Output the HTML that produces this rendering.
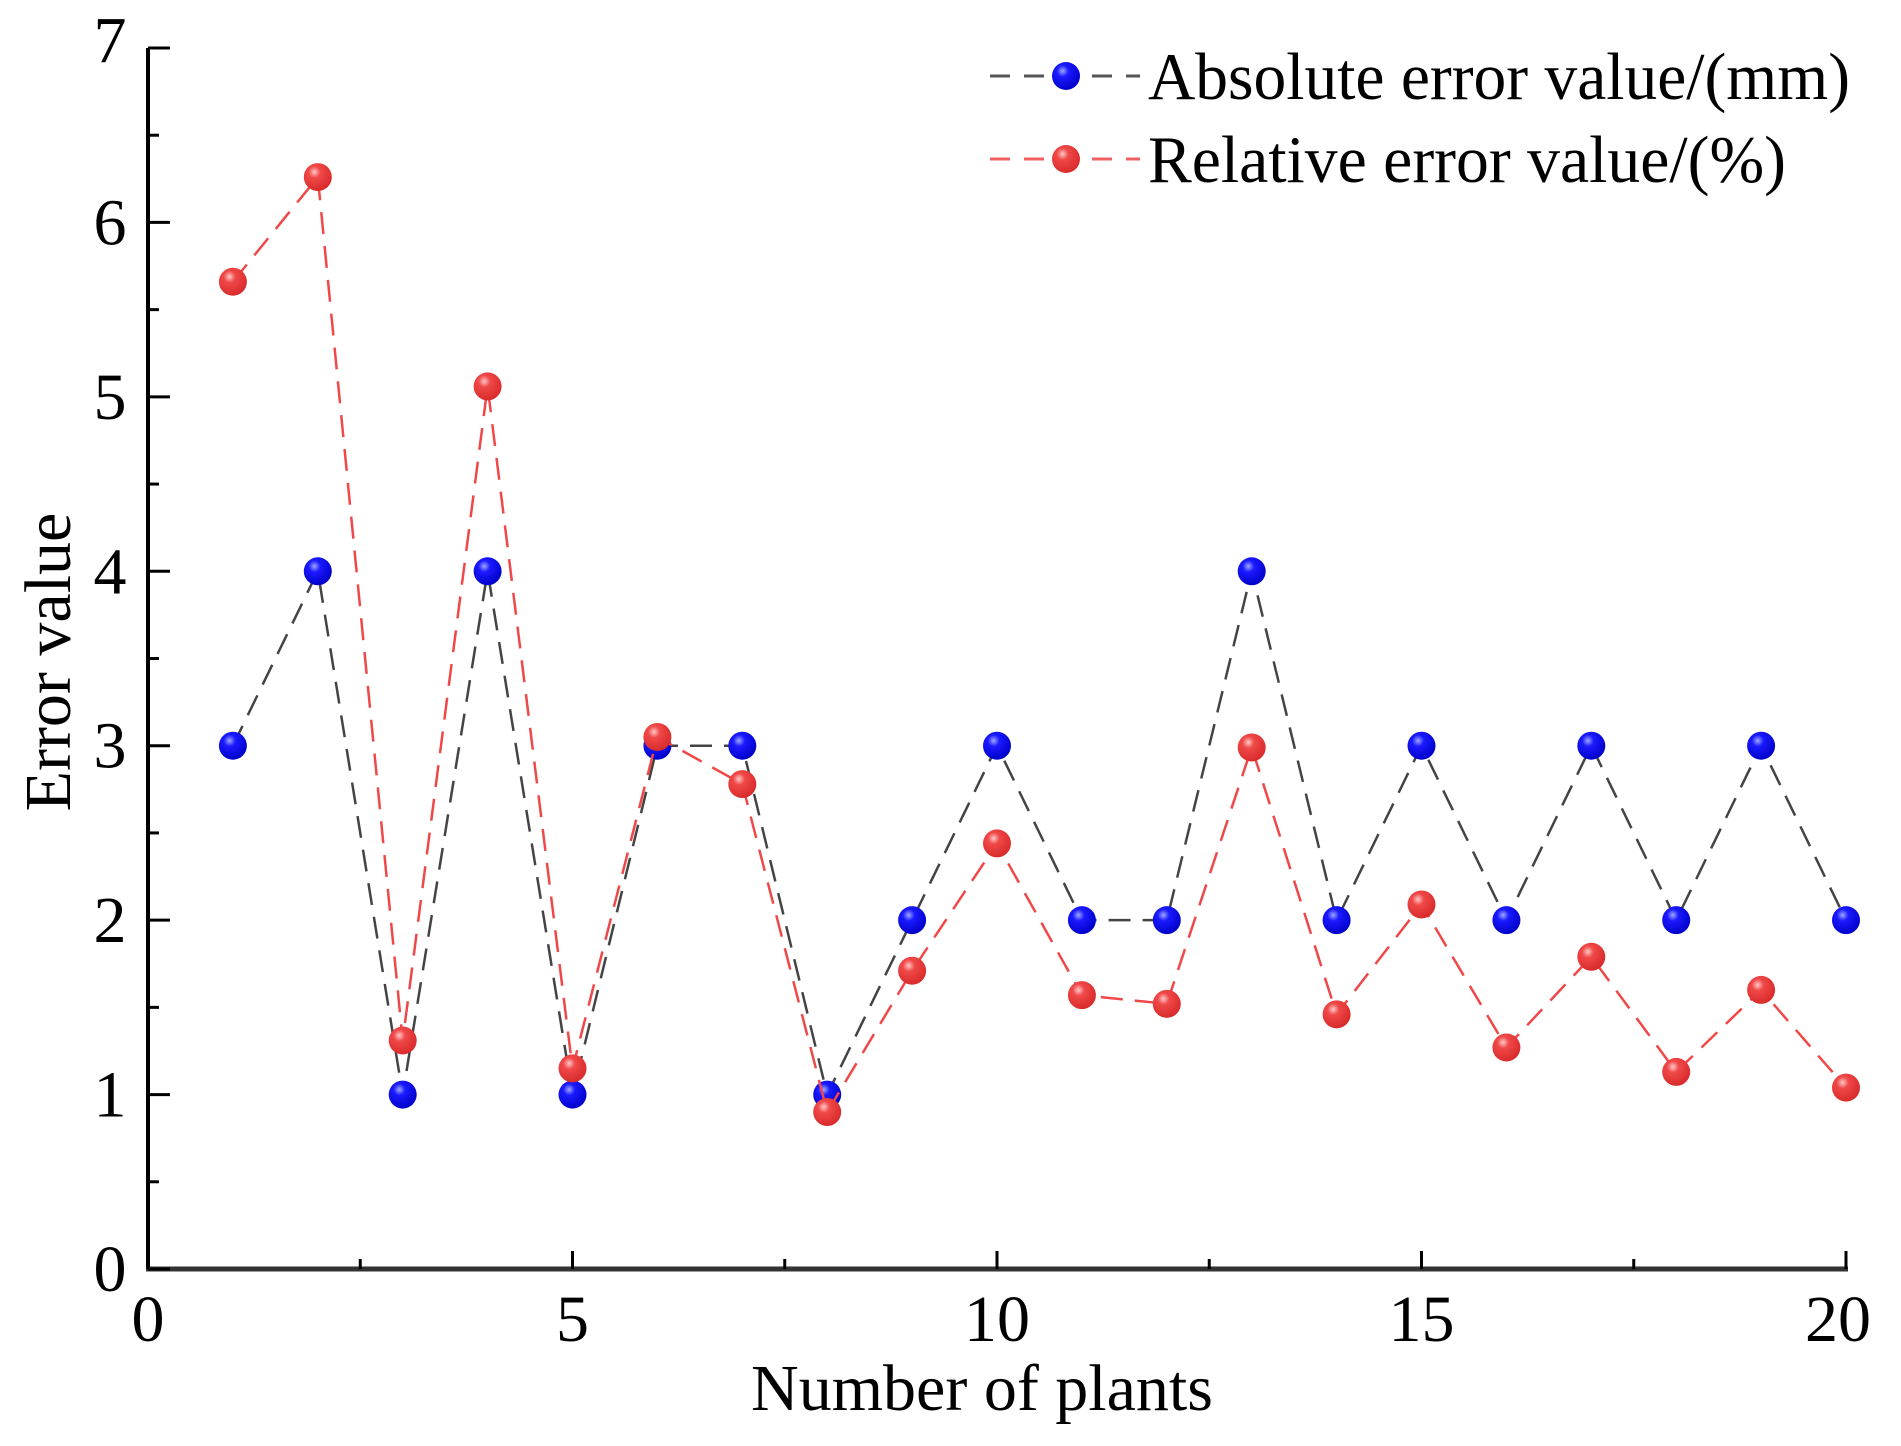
<!DOCTYPE html>
<html><head><meta charset="utf-8"><style>
html,body{margin:0;padding:0;background:#fff;}
svg{display:block;font-family:"Liberation Serif",serif;}
</style></head><body>
<svg id="chart" width="1901" height="1446" viewBox="0 0 1901 1446">
<defs>
<radialGradient id="gBlue" cx="0.38" cy="0.32" r="0.7">
<stop offset="0" stop-color="#9fa8ff"/><stop offset="0.3" stop-color="#1a1aff"/><stop offset="1" stop-color="#0000c8"/>
</radialGradient>
<radialGradient id="gRed" cx="0.38" cy="0.32" r="0.7">
<stop offset="0" stop-color="#ffc8c8"/><stop offset="0.3" stop-color="#f04848"/><stop offset="1" stop-color="#d82a2a"/>
</radialGradient>
</defs>
<g id="plot"></g>
</svg>
<script>
const plants = [1,2,3,4,5,6,7,8,9,10,11,12,13,14,15,16,17,18,19,20];
const absErr = [3,4,1,4,1,3,3,1,2,3,2,2,4,2,3,2,3,2,3,2];
const relErr = [5.66,6.26,1.31,5.06,1.15,3.05,2.78,0.9,1.71,2.44,1.57,1.52,2.99,1.46,2.09,1.27,1.79,1.13,1.60,1.04];
const xTicks = [0,5,10,15,20];
const xMinor = [2.5,7.5,12.5,17.5];
const yTicks = [0,1,2,3,4,5,6,7];
const yMinor = [0.5,1.5,2.5,3.5,4.5,5.5,6.5];

const X0=148,X1=1846,Y0=1269,Y1=48;
const sx=v=>X0+(v-0)/(20-0)*(X1-X0);
const sy=v=>Y0-(v-0)/(7-0)*(Y0-Y1);
const NS="http://www.w3.org/2000/svg";
const g=document.getElementById('plot');
function mk(tag,attrs,parent){const e=document.createElementNS(NS,tag);for(const k in attrs)e.setAttribute(k,attrs[k]);(parent||g).appendChild(e);return e;}

let e=mk('line',{x1:X0,y1:Y1,x2:X0,y2:Y0+2,stroke:'#000','stroke-width':4});


e=mk('line',{x1:X0-2,y1:Y0,x2:X1+2,y2:Y0,stroke:'#333','stroke-width':5});



xTicks.forEach(v=>{
  const t=mk('line',{x1:sx(v),y1:Y0,x2:sx(v),y2:Y0-18,stroke:'#000','stroke-width':3});
  
  
  const l=mk('text',{x:sx(v)-(v===20?8:0),y:Y0+72,'font-size':66,'text-anchor':'middle',fill:'#000'});
  l.textContent=v;
  
  
});
xMinor.forEach(v=>{
  const t=mk('line',{x1:sx(v),y1:Y0,x2:sx(v),y2:Y0-10,stroke:'#000','stroke-width':3});
  
  
});
yTicks.forEach(v=>{
  const t=mk('line',{x1:X0,y1:sy(v),x2:X0+22,y2:sy(v),stroke:'#000','stroke-width':3});
  
  
  const l=mk('text',{x:X0-38,y:sy(v)+(v===7?14:22),'font-size':66,'text-anchor':'middle',fill:'#000'});
  l.textContent=v;
  
  
});
yMinor.forEach(v=>{
  const t=mk('line',{x1:X0,y1:sy(v),x2:X0+11,y2:sy(v),stroke:'#000','stroke-width':3});
  
  
});

e=mk('text',{x:982,y:1410,'font-size':66,'text-anchor':'middle',fill:'#000'});
e.textContent='Number of plants';


e=mk('text',{x:0,y:0,'font-size':66,'text-anchor':'middle',fill:'#000',transform:'translate(70,662) rotate(-90)'});
e.textContent='Error value';



function series(vals,color,grad,name){
  const pts=plants.map((p,i)=>sx(p)+','+sy(vals[i])).join(' ');
  const pl=mk('polyline',{points:pts,fill:'none',stroke:color,'stroke-width':2.5,'stroke-dasharray':'22,12'});
  
  
  plants.forEach((p,i)=>{
    const c=mk('circle',{cx:sx(p),cy:sy(vals[i]),r:14,fill:'url(#'+grad+')'});
    
    
  });
}
series(absErr,'#444','gBlue','absolute-error');
series(relErr,'#f04848','gRed','relative-error');

function legend(y,color,grad,label,name){
  const lg=mk('g',{});
  
  
  mk('line',{x1:990,y1:y,x2:1140,y2:y,stroke:color,'stroke-width':3,'stroke-dasharray':'20,14'},lg);
  mk('circle',{cx:1066,cy:y,r:14,fill:'url(#'+grad+')'},lg);
  const t=mk('text',{x:1148,y:y+23,'font-size':67,fill:'#000',textLength:label.length>24?702:638,lengthAdjust:'spacingAndGlyphs'},lg);
  t.textContent=label;
}
legend(76,'#555','gBlue','Absolute error value/(mm)','legend-entry-absolute');
legend(159,'#f06060','gRed','Relative error value/(%)','legend-entry-relative');
</script>
</body></html>
